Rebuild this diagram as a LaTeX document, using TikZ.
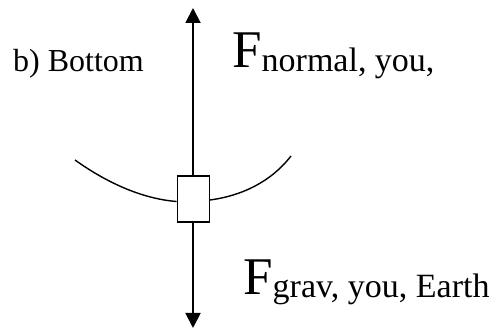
\documentclass[tikz,border=0pt]{standalone}
\usepackage{fontspec}
\setmainfont{Liberation Serif}
\usetikzlibrary{arrows.meta, positioning}

\begin{document}
\begin{tikzpicture}[
  x=1pt, y=-1pt,
  slider/.style={rectangle, draw, line width=1.5pt, fill=white, minimum width=32pt, minimum height=46pt, inner sep=0pt},
  arrow/.style={-{Triangle[length=15pt, width=15pt]}, line width=1.9pt},
  track/.style={line width=1.4pt},
  forcelabel/.style={anchor=base west, inner sep=0pt},
  caption/.style={anchor=base west, inner sep=0pt, font=\fontsize{32}{36}\selectfont},
]
  \useasboundingbox (0,0) rectangle (498,328);

  \coordinate (top) at (193,8);
  \coordinate (bottom) at (193,328);
  \coordinate (leftend) at (75,160);
  \coordinate (rightend) at (291,156);
  \node[slider] (box) at (193.3,199) {};

  \draw[arrow] (box.north -| top) -- (top);
  \draw[arrow] (box.south -| bottom) -- (bottom);
  \draw[track] (leftend) .. controls (110,185) and (145,199) .. (box.west |- 0,201.5);
  \draw[track] (box.east |- 0,200) .. controls (240,196) and (270,183) .. (rightend);

  \node[caption] (part) at (13,72) {b) Bottom};
  \node[forcelabel] (fnormal) at (232,68) {{\fontsize{53}{60}\selectfont F}\raisebox{-4pt}{\fontsize{34}{40}\selectfont normal, you,}};
  \node[forcelabel] (fgrav) at (243,295) {{\fontsize{53}{60}\selectfont F}\raisebox{-3pt}{\fontsize{34}{40}\selectfont grav, you, Earth}};
\end{tikzpicture}
\end{document}
